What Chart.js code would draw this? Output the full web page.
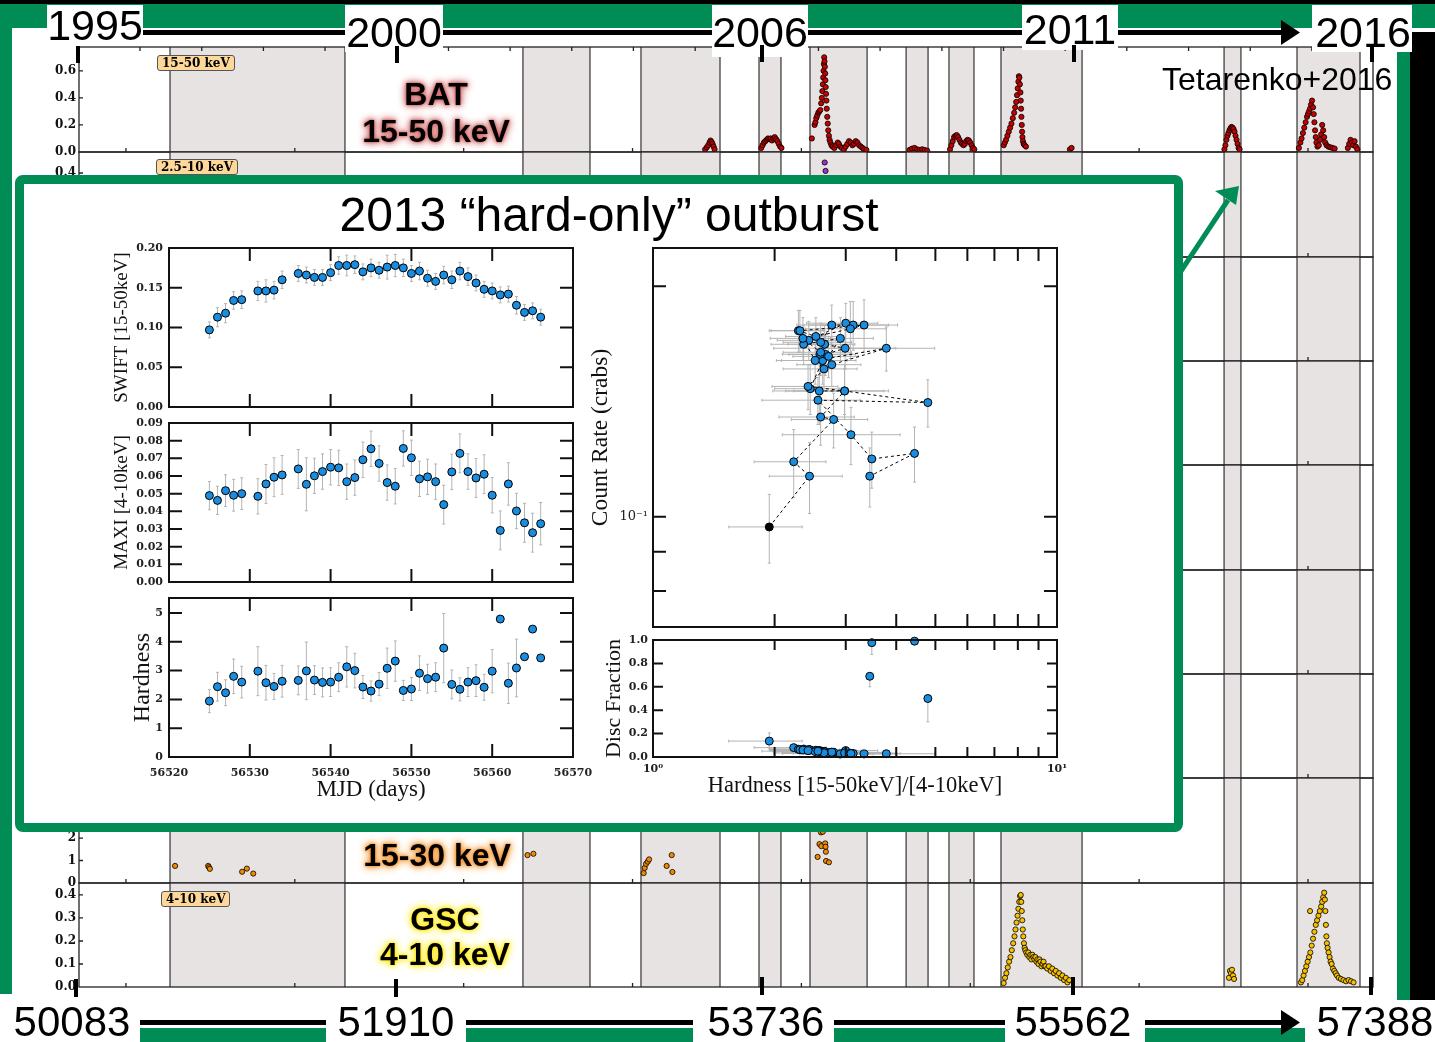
<!doctype html>
<html lang="en">
<head>
<meta charset="utf-8">
<title>Outburst history and the 2013 hard-only outburst</title>
<style>
  * { margin: 0; padding: 0; }
  body { width: 1435px; height: 1042px; position: relative; overflow: hidden; background: #fff;
         font-family: 'Liberation Sans', Arial, sans-serif; }
  canvas { position: absolute; }
  .bg { z-index: 1; }
  .inner { z-index: 6; }
  #deco { position: absolute; left: 0; top: 0; z-index: 3; }
  .glow { position: absolute; z-index: 4; width: 240px; text-align: center;
          font: bold 32px/32px 'Liberation Sans', Arial, sans-serif; color: #000; }
  .glow.red { text-shadow: 0 0 2px #c85a5a, 0 0 5px #c85a5a, 0 0 8px #d98080, 0 0 10px #e0a0a0; }
  .glow.orange { text-shadow: 0 0 2px #f08a20, 0 0 5px #f08a20, 0 0 8px #f4a850, 0 0 10px #f6b870; }
  .glow.yellow { text-shadow: 0 0 2px #ffe600, 0 0 5px #ffe600, 0 0 8px #fff040, 0 0 10px #fff270; }
  .tag { position: absolute; z-index: 4; font: bold 12px/14px 'DejaVu Serif', serif; background: #fdd89a;
         border: 1px solid #555; border-radius: 3px; padding: 0 4px; white-space: nowrap; }
  #inset { position: absolute; left: 15px; top: 175px; width: 1168px; height: 657px; box-sizing: border-box;
           border: 9px solid #018c56; border-radius: 8px; background: #fff; z-index: 5; }
  #insetTitle { position: absolute; z-index: 6; left: 0; width: 1218px; top: 191px; text-align: center;
                font: 48px/48px 'Liberation Sans', Arial, sans-serif; white-space: nowrap; }
</style>
</head>
<body>

<svg id="deco" width="1435" height="1042" font-family="Liberation Sans, Arial, sans-serif">
  <!-- slide border -->
  <rect x="0" y="0" width="1435" height="4" fill="#000"/>
  <rect x="0" y="4" width="1435" height="24" fill="#018c56"/>
  <rect x="0" y="4" width="12" height="990" fill="#018c56"/>
  <rect x="1397" y="28" width="13" height="972" fill="#018c56"/>
  <rect x="1410" y="32" width="25" height="968" fill="#000"/>

  <!-- top time line (years) -->
  <g fill="#fff">
    <rect x="47" y="5" width="96" height="40"/>
    <rect x="345" y="5" width="98" height="47"/>
    <rect x="712" y="5" width="96" height="52"/>
    <rect x="1022" y="5" width="96" height="45"/>
    <rect x="1312" y="5" width="100" height="47"/>
  </g>
  <g fill="#000">
    <rect x="143" y="30" width="202" height="5"/>
    <rect x="443" y="30" width="269" height="5"/>
    <rect x="808" y="30" width="214" height="5"/>
    <rect x="1118" y="30" width="166" height="5"/>
    <polygon points="1281,20 1300,32.5 1281,45"/>
    <rect x="76" y="46" width="4" height="17"/>
    <rect x="395" y="46" width="4" height="17"/>
    <rect x="760" y="45" width="4" height="17"/>
    <rect x="1072" y="45" width="4" height="17"/>
    <rect x="1370" y="45" width="4" height="17"/>
  </g>
  <g font-size="43" text-anchor="middle" fill="#000">
    <text x="95" y="40">1995</text>
    <text x="394" y="47">2000</text>
    <text x="760" y="47">2006</text>
    <text x="1070" y="44">2011</text>
    <text x="1363" y="47">2016</text>
  </g>
  <text x="1162" y="90" font-size="32" fill="#000">Tetarenko+2016</text>

  <!-- bottom time line (MJD) -->
  <g fill="#018c56">
    <rect x="140" y="1028" width="186" height="14"/>
    <rect x="466" y="1028" width="227" height="14"/>
    <rect x="834" y="1028" width="171" height="14"/>
    <rect x="1145" y="1028" width="160" height="14"/>
  </g>
  <g fill="#000">
    <rect x="140" y="1020" width="186" height="5"/>
    <rect x="466" y="1020" width="227" height="5"/>
    <rect x="834" y="1020" width="171" height="5"/>
    <rect x="1145" y="1020" width="138" height="5"/>
    <polygon points="1281,1010 1300,1022.5 1281,1035"/>
    <rect x="74" y="979" width="4" height="18"/>
    <rect x="394" y="979" width="4" height="18"/>
    <rect x="760" y="977" width="4" height="18"/>
    <rect x="1071" y="977" width="4" height="18"/>
    <rect x="1369" y="977" width="4" height="18"/>
  </g>
  <g font-size="42" text-anchor="middle" fill="#000">
    <text x="72" y="1036">50083</text>
    <text x="396" y="1036">51910</text>
    <text x="766" y="1036">53736</text>
    <text x="1073" y="1036">55562</text>
    <text x="1375" y="1036">57388</text>
  </g>

  <!-- pointer from the inset to the 2013 outburst -->
  <line x1="1181" y1="271" x2="1228" y2="200" stroke="#018c56" stroke-width="5"/>
  <polygon points="1215,191 1239,186 1236,205" fill="#018c56"/>
</svg>

<div class="glow red" style="left:316px; top:78px">BAT</div>
<div class="glow red" style="left:316px; top:115px">15-50 keV</div>
<div class="glow orange" style="left:317px; top:839px">15-30 keV</div>
<div class="glow yellow" style="left:325px; top:903px">GSC</div>
<div class="glow yellow" style="left:325px; top:938px">4-10 keV</div>

<div class="tag" style="left:157px; top:55px">15-50 keV</div>
<div class="tag" style="left:156px; top:159px">2.5-10 keV</div>
<div class="tag" style="left:161px; top:891px">4-10 keV</div>

<div id="inset"></div>
<div id="insetTitle">2013 “hard-only” outburst</div>

<script src="https://cdn.jsdelivr.net/npm/chart.js"></script>
<script>
// ---------------- long-term light curves, [MJD, rate] ----------------
const batLc = [
  [53430, 0.02], [53440, 0.035], [53448, 0.05], [53456, 0.07], [53462, 0.085], [53468, 0.075], [53474, 0.06], [53480, 0.04], [53486, 0.02],
  [53762, 0.03], [53770, 0.05], [53778, 0.07], [53786, 0.08], [53794, 0.09], [53802, 0.1], [53810, 0.095], [53818, 0.1], [53826, 0.085],
  [53834, 0.1], [53842, 0.11], [53850, 0.095], [53858, 0.08], [53866, 0.06], [53874, 0.04], [53882, 0.03],
  [54062, 0.10], [54078, 0.20], [54083, 0.22], [54088, 0.25], [54094, 0.27], [54100, 0.29], [54106, 0.30], [54112, 0.31], [54117, 0.36],
  [54121, 0.40], [54124, 0.45], [54127, 0.50], [54129, 0.55], [54131, 0.60], [54133, 0.65], [54135, 0.70], [54137, 0.67], [54139, 0.63],
  [54141, 0.58], [54142, 0.53], [54144, 0.48], [54146, 0.43], [54148, 0.38], [54150, 0.32], [54153, 0.26], [54156, 0.21], [54159, 0.16],
  [54163, 0.12], [54167, 0.09], [54172, 0.07], [54178, 0.05], [54185, 0.04], [54195, 0.03], [54205, 0.05], [54215, 0.07], [54222, 0.06],
  [54230, 0.04], [54240, 0.03], [54252, 0.02], [54262, 0.04], [54272, 0.06], [54282, 0.08], [54292, 0.07], [54302, 0.05], [54312, 0.06],
  [54322, 0.08], [54332, 0.07], [54342, 0.05], [54352, 0.04], [54362, 0.03], [54372, 0.02], [54385, 0.015],
  [54640, 0.015], [54655, 0.025], [54670, 0.03], [54685, 0.02], [54700, 0.015], [54715, 0.02], [54730, 0.015], [54745, 0.01],
  [54880, 0.02], [54888, 0.05], [54896, 0.08], [54904, 0.11], [54912, 0.12], [54920, 0.125], [54928, 0.11], [54936, 0.09], [54944, 0.07],
  [54952, 0.06], [54960, 0.05], [54968, 0.06], [54976, 0.08], [54984, 0.09], [54992, 0.085], [55000, 0.07], [55008, 0.05], [55016, 0.03], [55024, 0.02],
  [55198, 0.05], [55205, 0.07], [55212, 0.09], [55220, 0.12], [55228, 0.15], [55236, 0.18], [55244, 0.21], [55252, 0.25], [55260, 0.29],
  [55266, 0.33], [55272, 0.37], [55277, 0.42], [55281, 0.47], [55285, 0.52], [55288, 0.56], [55291, 0.55], [55294, 0.50], [55297, 0.44],
  [55299, 0.38], [55301, 0.32], [55303, 0.26], [55305, 0.20], [55307, 0.15], [55309, 0.11], [55312, 0.08], [55316, 0.06], [55322, 0.05], [55330, 0.04],
  [55590, 0.02], [55600, 0.03],
  [56505, 0.02], [56511, 0.05], [56517, 0.09], [56523, 0.12], [56529, 0.14], [56535, 0.16], [56541, 0.175], [56547, 0.185], [56553, 0.18],
  [56559, 0.17], [56565, 0.15], [56571, 0.12], [56577, 0.09], [56583, 0.06], [56589, 0.03], [56595, 0.02],
  [56946, 0.03], [56955, 0.07], [56962, 0.1], [56970, 0.14], [56978, 0.18], [56986, 0.22], [56994, 0.26], [57000, 0.28], [57006, 0.3],
  [57012, 0.32], [57018, 0.35], [57024, 0.38], [57030, 0.33], [57034, 0.28], [57038, 0.22], [57042, 0.16], [57046, 0.11], [57050, 0.07],
  [57056, 0.04], [57064, 0.05], [57072, 0.09], [57078, 0.13], [57084, 0.2], [57090, 0.16], [57096, 0.11], [57102, 0.07], [57110, 0.05],
  [57120, 0.04], [57132, 0.035], [57145, 0.03], [57158, 0.025],
  [57236, 0.03], [57244, 0.06], [57252, 0.09], [57260, 0.07], [57268, 0.05], [57276, 0.08], [57284, 0.04], [57292, 0.02]
];
const asmLc = [[54138, 0.45], [54143, 0.41], [54148, 0.37]];
const lc1530 = [
  [50291, 0.76], [50487, 0.76], [50492, 0.70], [50497, 0.63], [50688, 0.50], [50716, 0.64], [50754, 0.42],
  [52378, 1.24], [52413, 1.30],
  [53066, 0.44], [53072, 0.67], [53080, 0.85], [53090, 0.95], [53098, 1.05], [53202, 0.76], [53232, 1.24], [53236, 0.49],
  [54096, 1.16], [54107, 1.73], [54116, 2.25], [54118, 1.64], [54127, 2.28], [54141, 1.76], [54143, 1.61], [54145, 1.39],
  [54146, 0.98], [54163, 0.92]
];
const gscLc = [
  [55198, 0.017], [55206, 0.04], [55214, 0.06], [55222, 0.085], [55230, 0.11], [55238, 0.13], [55246, 0.16], [55254, 0.19], [55262, 0.22],
  [55268, 0.25], [55274, 0.28], [55280, 0.31], [55285, 0.34], [55290, 0.37], [55295, 0.395], [55299, 0.40], [55302, 0.37], [55305, 0.33],
  [55308, 0.29], [55311, 0.25], [55314, 0.22], [55318, 0.19], [55322, 0.17], [55326, 0.16], [55332, 0.15], [55338, 0.14], [55344, 0.15],
  [55350, 0.13], [55356, 0.14], [55362, 0.12], [55368, 0.14], [55374, 0.13], [55380, 0.12], [55386, 0.13], [55392, 0.11], [55398, 0.12],
  [55404, 0.10], [55410, 0.12], [55416, 0.11], [55422, 0.09], [55428, 0.10], [55434, 0.11], [55440, 0.09], [55446, 0.09], [55456, 0.08],
  [55466, 0.09], [55476, 0.07], [55486, 0.08], [55496, 0.06], [55506, 0.07], [55516, 0.05], [55526, 0.06], [55536, 0.04], [55546, 0.05],
  [55556, 0.03], [55566, 0.04], [55576, 0.02], [55586, 0.03],
  [56532, 0.04], [56538, 0.07], [56544, 0.06], [56550, 0.075], [56556, 0.05], [56562, 0.035],
  [56958, 0.02], [56966, 0.03], [56974, 0.05], [56982, 0.07], [56990, 0.09], [56998, 0.11], [57006, 0.13], [57012, 0.33], [57014, 0.15],
  [57022, 0.18], [57030, 0.21], [57038, 0.24], [57046, 0.27], [57054, 0.29], [57062, 0.31], [57070, 0.33], [57078, 0.35], [57084, 0.37],
  [57090, 0.39], [57096, 0.41], [57100, 0.38], [57103, 0.33], [57106, 0.27], [57109, 0.22], [57112, 0.19], [57116, 0.17], [57122, 0.15],
  [57128, 0.13], [57134, 0.11], [57140, 0.10], [57148, 0.08], [57156, 0.07], [57164, 0.06], [57172, 0.05], [57182, 0.04], [57195, 0.035],
  [57210, 0.03], [57225, 0.025], [57240, 0.03], [57255, 0.025], [57270, 0.02]
];
// outburst windows (MJD start, end)
const outburstSpans = [
  [50261, 51297], [52351, 52748], [53050, 53518], [53749, 53879], [54051, 54389],
  [54620, 54750], [54874, 55022], [55182, 55662], [56503, 56603], [56935, 57308]
];
const thousandDays = [50000, 51000, 52000, 53000, 54000, 55000, 56000, 57000];
const yearStarts = [50083, 50449, 50814, 51179, 51544, 51910, 52275, 52640, 53005, 53371, 53736,
                    54101, 54466, 54832, 55197, 55562, 55927, 56293, 56658, 57023];

// ---------------- 2013 outburst, daily ----------------
const mjd = [56525, 56526, 56527, 56528, 56529, 56531, 56532, 56533, 56534, 56536, 56537, 56538, 56539, 56540,
             56541, 56542, 56543, 56544, 56545, 56546, 56547, 56548, 56549, 56550, 56551, 56552, 56553, 56554,
             56555, 56556, 56557, 56558, 56559, 56560, 56561, 56562, 56563, 56564, 56565, 56566];
const swift = [0.097, 0.113, 0.118, 0.134, 0.135, 0.146, 0.146, 0.147, 0.160, 0.168, 0.166, 0.163, 0.163, 0.169,
               0.178, 0.178, 0.179, 0.170, 0.175, 0.172, 0.176, 0.178, 0.175, 0.168, 0.171, 0.162, 0.158, 0.166,
               0.160, 0.171, 0.164, 0.156, 0.148, 0.146, 0.141, 0.142, 0.128, 0.119, 0.121, 0.113];
const swiftErr = [0.010, 0.012, 0.012, 0.011, 0.011, 0.012, 0.014, 0.011, 0.011, 0.010, 0.010, 0.010, 0.010, 0.010,
                  0.011, 0.013, 0.011, 0.010, 0.011, 0.010, 0.015, 0.014, 0.011, 0.010, 0.011, 0.010, 0.010, 0.011,
                  0.011, 0.011, 0.011, 0.010, 0.010, 0.010, 0.010, 0.010, 0.011, 0.010, 0.010, 0.010];
const maxi = [0.0489, 0.0462, 0.0517, 0.0491, 0.0500, 0.0485, 0.0555, 0.0593, 0.0606, 0.0640, 0.0553, 0.0601, 0.0625, 0.0650,
              0.0646, 0.0568, 0.0591, 0.0692, 0.0754, 0.0671, 0.0563, 0.0542, 0.0756, 0.0703, 0.0584, 0.0595, 0.0568, 0.0438,
              0.0623, 0.0728, 0.0625, 0.0589, 0.0610, 0.0491, 0.0292, 0.0555, 0.0402, 0.0335, 0.0279, 0.0330];
const maxiErr = [0.008, 0.008, 0.009, 0.009, 0.009, 0.010, 0.011, 0.011, 0.011, 0.011, 0.015, 0.010, 0.010, 0.010,
                 0.010, 0.010, 0.010, 0.010, 0.010, 0.010, 0.010, 0.010, 0.010, 0.010, 0.010, 0.010, 0.010, 0.011,
                 0.010, 0.011, 0.010, 0.011, 0.011, 0.010, 0.011, 0.012, 0.010, 0.011, 0.011, 0.012];
const hardness = [1.94, 2.44, 2.23, 2.80, 2.60, 2.98, 2.58, 2.45, 2.63, 2.66, 2.99, 2.67, 2.59, 2.60,
                  2.77, 3.13, 3.00, 2.43, 2.29, 2.53, 3.08, 3.33, 2.31, 2.36, 2.91, 2.72, 2.77, 3.78,
                  2.52, 2.35, 2.60, 2.65, 2.42, 2.98, 4.79, 2.56, 3.09, 3.48, 4.44, 3.44];
const hardErr = [0.40, 0.50, 0.45, 0.60, 0.55, 0.85, 0.60, 0.45, 0.55, 0.50, 1.00, 0.50, 0.50, 0.50,
                 0.50, 0.70, 0.60, 0.40, 0.35, 0.40, 0.70, 0.70, 0.35, 0.40, 0.60, 0.50, 0.50, 1.20,
                 0.50, 0.40, 0.50, 0.55, 0.45, 0.75, 0, 0.70, 1.00, 0, 0, 0];
const discFrac = [0.136, 0.062, 0.080, 0.040, 0.050, 0.040, 0.055, 0.060, 0.048, 0.048, 0.034, 0.045, 0.052, 0.044,
                  0.040, 0.030, 0.055, 0.064, 0.066, 0.058, 0.032, 0.026, 0.062, 0.068, 0.026, 0.036, 0.040, 0.028,
                  0.046, 0.060, 0.042, 0.036, 0.054, 0.034, 0.500, 0.050, 0.030, 0.977, 0.990, 0.690];
const discErrLo = [0.06, 0.01, 0.02, 0.01, 0.01, 0.01, 0.01, 0.01, 0.01, 0.01, 0.01, 0.01, 0.01, 0.01,
                   0.01, 0.01, 0.01, 0.01, 0.01, 0.01, 0.01, 0.01, 0.01, 0.01, 0.01, 0.01, 0.01, 0.01,
                   0.01, 0.01, 0.01, 0.01, 0.01, 0.01, 0.20, 0.01, 0.01, 0.10, 0, 0.09];
const discErrHi = [0.07, 0.01, 0.02, 0.01, 0.01, 0.01, 0.01, 0.01, 0.01, 0.01, 0.01, 0.01, 0.01, 0.01,
                   0.01, 0.01, 0.01, 0.01, 0.01, 0.01, 0.01, 0.01, 0.01, 0.01, 0.01, 0.01, 0.01, 0.01,
                   0.01, 0.01, 0.01, 0.01, 0.01, 0.01, 0.02, 0.01, 0.01, 0, 0, 0];

// tick values
const mjdTicks = [56520, 56530, 56540, 56550, 56560, 56570];
const swiftTicks = [0, 0.05, 0.10, 0.15, 0.20];
const maxiTicks = [0, 0.01, 0.02, 0.03, 0.04, 0.05, 0.06, 0.07, 0.08, 0.09];
const hardTicks = [0, 1, 2, 3, 4, 5];
const hrTicks = [1, 2, 3, 4, 5, 6, 7, 8, 9, 10];
const rateTicks = [0.08, 0.09, 0.1, 0.2];
const discTicks = [0, 0.2, 0.4, 0.6, 0.8, 1.0];

// ---------------- helpers ----------------
const tickFont = { family: 'DejaVu Serif', weight: 'bold', size: 11 };
const bgTickFont = { family: 'DejaVu Serif', weight: 'bold', size: 12 };
const labelFont = size => ({ family: 'Liberation Serif', size: size, lineHeight: 1.2 });
const noGrid = { display: false, drawTicks: false };
const blue = '#1a8de0';
const PAD = 14;   // room above/below the plot box for edge tick labels

function addCanvas(left, top, w, h, cls) {
  const c = document.createElement('canvas');
  c.width = w;
  c.height = h;
  c.className = cls;
  c.style.cssText = `left:${left}px;top:${top}px;width:${w}px;height:${h}px`;
  document.body.appendChild(c);
  return c;
}

function baseOptions(padding, scales) {
  return {
    responsive: false,
    animation: false,
    devicePixelRatio: 1,
    events: [],
    layout: { padding },
    scales,
    plugins: { legend: { display: false }, tooltip: { enabled: false } }
  };
}

function fixedTicks(values) {
  return scale => { scale.ticks = values.map(v => ({ value: v })); };
}

// frame box + inward tick marks
function framePlugin(o) {
  return {
    id: 'frame',
    afterDatasetsDraw(chart) {
      const { ctx, chartArea: a, scales: { x, y } } = chart;
      const inX = p => p > a.left + 1 && p < a.right - 1;
      const inY = p => p > a.top + 1 && p < a.bottom - 1;
      ctx.save();
      ctx.strokeStyle = o.color || '#111';
      ctx.lineWidth = o.lineWidth || 2;
      ctx.beginPath();
      (o.xBottom || []).forEach(v => {
        const p = x.getPixelForValue(v);
        if (inX(p)) { ctx.moveTo(p, a.bottom); ctx.lineTo(p, a.bottom - o.len); }
      });
      (o.xTop || []).forEach(v => {
        const p = x.getPixelForValue(v);
        if (inX(p)) { ctx.moveTo(p, a.top); ctx.lineTo(p, a.top + o.len); }
      });
      (o.yLeft || []).forEach(v => {
        const p = y.getPixelForValue(v);
        if (inY(p)) { ctx.moveTo(a.left, p); ctx.lineTo(a.left + o.len, p); }
      });
      (o.yRight || []).forEach(v => {
        const p = y.getPixelForValue(v);
        if (inY(p)) { ctx.moveTo(a.right, p); ctx.lineTo(a.right - o.len, p); }
      });
      ctx.stroke();
      ctx.strokeRect(a.left, a.top, a.width, a.height);
      ctx.restore();
    }
  };
}

// grey shaded outburst windows with dark edges
function shadePlugin(spans) {
  return {
    id: 'shade',
    beforeDatasetsDraw(chart) {
      const { ctx, chartArea: a, scales: { x } } = chart;
      ctx.save();
      spans.forEach(([s, e]) => {
        const x0 = x.getPixelForValue(s), x1 = x.getPixelForValue(e);
        ctx.fillStyle = '#e8e3e3';
        ctx.fillRect(x0, a.top, x1 - x0, a.height);
        ctx.strokeStyle = '#333';
        ctx.lineWidth = 1.2;
        ctx.beginPath();
        ctx.moveTo(x0, a.top); ctx.lineTo(x0, a.bottom);
        ctx.moveTo(x1, a.top); ctx.lineTo(x1, a.bottom);
        ctx.stroke();
      });
      ctx.restore();
    }
  };
}

// error bars from dataset.errX / dataset.errY (number or [down, up])
const errorBars = {
  id: 'errorBars',
  beforeDatasetsDraw(chart) {
    const { ctx, chartArea: a } = chart;
    const span = e => Array.isArray(e) ? e : [e, e];
    ctx.save();
    ctx.beginPath();
    ctx.rect(a.left, a.top, a.width, a.height);
    ctx.clip();
    ctx.strokeStyle = '#b4b4b4';
    ctx.lineWidth = 1;
    chart.data.datasets.forEach((ds, i) => {
      const meta = chart.getDatasetMeta(i);
      const xs = chart.scales[meta.xAxisID], ys = chart.scales[meta.yAxisID];
      ctx.beginPath();
      ds.data.forEach((p, j) => {
        const px = xs.getPixelForValue(p.x), py = ys.getPixelForValue(p.y);
        if (ds.errY) {
          const [lo, hi] = span(ds.errY[j]);
          if (lo || hi) {
            const y0 = ys.getPixelForValue(p.y - lo), y1 = ys.getPixelForValue(p.y + hi);
            ctx.moveTo(px, y0); ctx.lineTo(px, y1);
            ctx.moveTo(px - 1.5, y0); ctx.lineTo(px + 1.5, y0);
            ctx.moveTo(px - 1.5, y1); ctx.lineTo(px + 1.5, y1);
          }
        }
        if (ds.errX) {
          const [lo, hi] = span(ds.errX[j]);
          if (lo || hi) {
            const x0 = xs.getPixelForValue(p.x - lo), x1 = xs.getPixelForValue(p.x + hi);
            ctx.moveTo(x0, py); ctx.lineTo(x1, py);
            ctx.moveTo(x0, py - 1.5); ctx.lineTo(x0, py + 1.5);
            ctx.moveTo(x1, py - 1.5); ctx.lineTo(x1, py + 1.5);
          }
        }
      });
      ctx.stroke();
    });
    ctx.restore();
  }
};

// ---------------- long-term panels ----------------
const panelEdges = [47, 152, 257, 361, 465, 570, 674, 778, 883, 987];
const panels = [
  { data: batLc, color: '#c40000', yMax: 0.776, ticks: [0, 0.2, 0.4, 0.6], digits: 1 },
  { data: asmLc, color: '#9a32c8', yMax: 0.5, ticks: [0, 0.1, 0.2, 0.3, 0.4], digits: 1 },
  { data: [], yMax: 1 },
  { data: [], yMax: 1 },
  { data: [], yMax: 1 },
  { data: [], yMax: 1 },
  { data: [], yMax: 1 },
  { data: lc1530, color: '#f28a00', yMax: 4.67, ticks: [0, 1, 2, 3, 4], digits: 0 },
  { data: gscLc, color: '#f6c000', yMax: 0.452, ticks: [0, 0.1, 0.2, 0.3, 0.4], digits: 1 }
];

panels.forEach((p, k) => {
  const top = panelEdges[k], h = panelEdges[k + 1] - top;
  const yAxis = {
    min: 0, max: p.yMax,
    afterFit: s => { s.width = 79; },
    grid: noGrid,
    border: { display: false },
    ticks: { display: !!p.ticks, padding: 3, font: bgTickFont, color: '#111' }
  };
  if (p.ticks) {
    yAxis.afterBuildTicks = fixedTicks(p.ticks);
    yAxis.ticks.callback = v => v.toFixed(p.digits);
  }
  new Chart(addCanvas(0, top - PAD, 1395, h + 2 * PAD, 'bg'), {
    type: 'scatter',
    data: {
      datasets: [{
        data: p.data.map(([x, y]) => ({ x, y })),
        pointRadius: 2.6,
        pointBackgroundColor: p.color || '#000',
        pointBorderColor: '#000',
        pointBorderWidth: 0.8
      }]
    },
    options: baseOptions({ top: PAD, bottom: PAD, left: 0, right: 22 }, {
      x: { type: 'linear', min: 49722, max: 57385, display: false },
      y: yAxis
    }),
    plugins: [
      shadePlugin(outburstSpans),
      framePlugin({ len: 4, lineWidth: 1.3, color: '#222', xBottom: thousandDays,
                    xTop: k === 0 ? yearStarts : [], yLeft: p.ticks || [] })
    ]
  });
});

// ---------------- 2013 outburst panels ----------------
const dot = { pointRadius: 4, pointBackgroundColor: blue, pointBorderColor: '#000', pointBorderWidth: 1, clip: false };

// plot box: 169..573 horizontally, boxTop..boxTop+159 vertically
function timePanel(boxTop, values, errors, ticks, yMax, digits, title, titleSize, titlePad, showX) {
  const yAxis = {
    min: 0, max: yMax,
    afterFit: s => { s.width = 69; },
    afterBuildTicks: fixedTicks(ticks),
    grid: noGrid,
    border: { display: false },
    ticks: { font: tickFont, color: '#222', padding: 6, callback: v => v.toFixed(digits) },
    title: { display: true, text: title, font: labelFont(titleSize), color: '#111', padding: { top: titlePad, bottom: 0 } }
  };
  const xAxis = { type: 'linear', min: 56520, max: 56570, display: showX };
  if (showX) {
    Object.assign(xAxis, {
      afterFit: s => { s.height = 53; },
      afterBuildTicks: fixedTicks(mjdTicks),
      grid: noGrid,
      border: { display: false },
      ticks: { font: tickFont, color: '#222', padding: 10, maxRotation: 0, autoSkip: false, callback: v => String(v) },
      title: { display: true, text: 'MJD (days)', font: labelFont(23), color: '#111', padding: { top: 0, bottom: 6 } }
    });
  }
  const height = PAD + 159 + (showX ? 53 + 5 : PAD);
  new Chart(addCanvas(100, boxTop - PAD, 510, height, 'inner'), {
    type: 'scatter',
    data: { datasets: [Object.assign({ data: mjd.map((d, i) => ({ x: d, y: values[i] })), errY: errors }, dot)] },
    options: baseOptions({ top: PAD, bottom: showX ? 5 : PAD, left: 0, right: 37 }, { x: xAxis, y: yAxis }),
    plugins: [errorBars, framePlugin({ len: 13, xBottom: mjdTicks, xTop: mjdTicks, yLeft: ticks, yRight: ticks })]
  });
}

timePanel(248, swift, swiftErr, swiftTicks, 0.2, 2, 'SWIFT [15-50keV]', 19, 11, false);
timePanel(423, maxi, maxiErr, maxiTicks, 0.09, 2, 'MAXI [4-10keV]', 19, 11, false);
timePanel(598, hardness, hardErr, hardTicks, 5.52, 0, 'Hardness', 24, 28, true);

// count rate against hardness, joined in time order (plot box 653..1057 x 248..627)
new Chart(addCanvas(585, 248 - PAD, 495, PAD + 379 + PAD, 'inner'), {
  type: 'scatter',
  data: {
    datasets: [{
      data: hardness.map((h, i) => ({ x: h, y: swift[i] })),
      errX: hardErr,
      errY: swiftErr,
      showLine: true,
      borderColor: '#000',
      borderWidth: 1,
      borderDash: [3, 3],
      pointRadius: 4,
      pointBackgroundColor: hardness.map((h, i) => i === 0 ? '#000' : blue),
      pointBorderColor: '#000',
      pointBorderWidth: 1,
      clip: false
    }]
  },
  options: baseOptions({ top: PAD, bottom: PAD, left: 0, right: 23 }, {
    x: { type: 'logarithmic', min: 1, max: 10, display: false },
    y: {
      type: 'logarithmic', min: 0.0718, max: 0.2244,
      afterFit: s => { s.width = 68; },
      afterBuildTicks: fixedTicks(rateTicks),
      grid: noGrid,
      border: { display: false },
      ticks: { font: { family: 'DejaVu Serif', size: 13 }, color: '#222', padding: 5, autoSkip: false,
               callback: v => v === 0.1 ? '10⁻¹' : '' },
      title: { display: true, text: 'Count Rate (crabs)', font: labelFont(23.5), color: '#111', padding: { top: 2, bottom: 0 } }
    }
  }),
  plugins: [errorBars, framePlugin({ len: 13, xBottom: hrTicks, xTop: hrTicks, yLeft: rateTicks, yRight: rateTicks })]
});

// disc fraction against hardness (plot box 653..1057 x 640..757)
new Chart(addCanvas(585, 640 - PAD, 495, PAD + 117 + 53 + 2, 'inner'), {
  type: 'scatter',
  data: {
    datasets: [Object.assign({
      data: hardness.map((h, i) => ({ x: h, y: discFrac[i] })),
      errX: hardErr,
      errY: discErrLo.map((lo, i) => [lo, discErrHi[i]])
    }, dot)]
  },
  options: baseOptions({ top: PAD, bottom: 2, left: 0, right: 23 }, {
    x: {
      type: 'logarithmic', min: 1, max: 10,
      afterFit: s => { s.height = 53; },
      afterBuildTicks: fixedTicks(hrTicks),
      grid: noGrid,
      border: { display: false },
      ticks: { font: tickFont, color: '#222', padding: 6, maxRotation: 0, autoSkip: false,
               callback: v => v === 1 ? '10⁰' : (v === 10 ? '10¹' : '') },
      title: { display: true, text: 'Hardness [15-50keV]/[4-10keV]', font: labelFont(22.5), color: '#111', padding: { top: 0, bottom: 10 } }
    },
    y: {
      min: 0, max: 1,
      afterFit: s => { s.width = 68; },
      afterBuildTicks: fixedTicks(discTicks),
      grid: noGrid,
      border: { display: false },
      ticks: { font: tickFont, color: '#222', padding: 5, callback: v => v.toFixed(1) },
      title: { display: true, text: 'Disc Fraction', font: labelFont(22), color: '#111', padding: { top: 16, bottom: 0 } }
    }
  }),
  plugins: [errorBars, framePlugin({ len: 10, xBottom: hrTicks, xTop: hrTicks, yLeft: discTicks, yRight: discTicks })]
});
</script>
</body>
</html>
